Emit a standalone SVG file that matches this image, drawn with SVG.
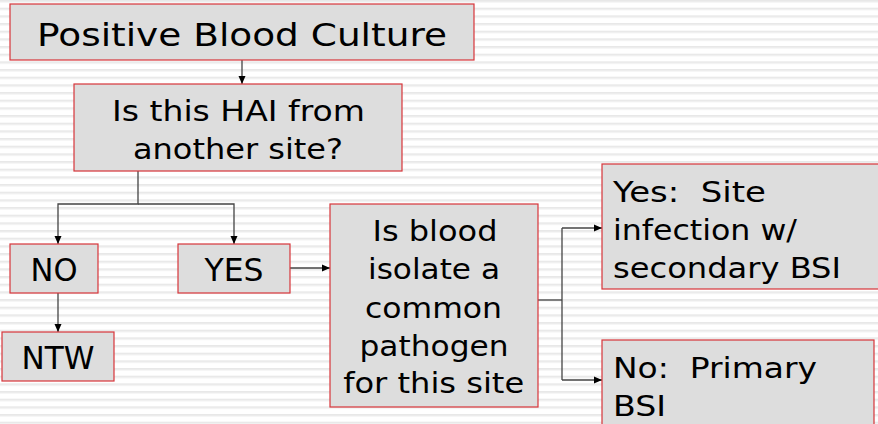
<svg xmlns="http://www.w3.org/2000/svg" width="878" height="424" viewBox="0 0 878 424">
<defs>
<pattern id="stripes" x="0" y="0" width="8" height="7.667" patternUnits="userSpaceOnUse">
<rect x="0" y="0" width="8" height="7.667" fill="#ffffff"/>
<rect x="0" y="0.2" width="8" height="1.4" fill="#e2e2e2"/>
<rect x="0" y="1.6" width="8" height="0.9" fill="#f0f0f0"/>
</pattern>
<marker id="arr" viewBox="0 0 8 8" refX="8" refY="4" markerWidth="8" markerHeight="8" markerUnits="userSpaceOnUse" orient="auto">
<path d="M0,0.5 L8,4 L0,7.5 z" fill="#000"/>
</marker>
<style>
.box{fill:#dddddd;stroke:#d8353a;stroke-width:1.2}
.t{font-family:"DejaVu Sans","Verdana",sans-serif;fill:#000}
.c{text-anchor:middle}
.ln{fill:none;stroke:#444;stroke-width:1.3}
</style>
</defs>
<rect width="878" height="424" fill="url(#stripes)"/>
<g id="connectors">
<path class="ln" d="M242,60 V84" marker-end="url(#arr)"/>
<path class="ln" d="M138,171 V204 H58 V244" marker-end="url(#arr)"/>
<path class="ln" d="M138,204 H234 V244" marker-end="url(#arr)"/>
<path class="ln" d="M58,293 V332" marker-end="url(#arr)"/>
<path class="ln" d="M290,268 H330" marker-end="url(#arr)"/>
<path class="ln" d="M538,300 H562"/>
<path class="ln" d="M562,228 V380"/>
<path class="ln" d="M562,228 H602" marker-end="url(#arr)"/>
<path class="ln" d="M562,380 H602" marker-end="url(#arr)"/>
</g>
<g id="n1">
<rect class="box" x="10" y="4" width="464" height="56"/>
<text class="t c" x="242" y="46" font-size="32" textLength="410" lengthAdjust="spacingAndGlyphs">Positive Blood Culture</text>
</g>
<g id="n2">
<rect class="box" x="74" y="84" width="328" height="87"/>
<text class="t c" x="238.5" y="121" font-size="29" textLength="253" lengthAdjust="spacingAndGlyphs">Is this HAI from</text>
<text class="t c" x="238" y="159" font-size="29" textLength="210" lengthAdjust="spacingAndGlyphs">another site?</text>
</g>
<g id="n3">
<rect class="box" x="10" y="244" width="88" height="49"/>
<text class="t c" x="54" y="281" font-size="32" textLength="47" lengthAdjust="spacingAndGlyphs">NO</text>
</g>
<g id="n4">
<rect class="box" x="178" y="244" width="112" height="49"/>
<text class="t c" x="234" y="281" font-size="32" textLength="59" lengthAdjust="spacingAndGlyphs">YES</text>
</g>
<g id="n5">
<rect class="box" x="2" y="332" width="112" height="49"/>
<text class="t c" x="58" y="369" font-size="32" textLength="73" lengthAdjust="spacingAndGlyphs">NTW</text>
</g>
<g id="n6">
<rect class="box" x="330" y="204" width="208" height="203"/>
<text class="t c" x="435" y="241" font-size="29" textLength="125" lengthAdjust="spacingAndGlyphs">Is blood</text>
<text class="t c" x="434" y="279" font-size="29" textLength="132" lengthAdjust="spacingAndGlyphs">isolate a</text>
<text class="t c" x="433.5" y="317.5" font-size="29" textLength="137" lengthAdjust="spacingAndGlyphs">common</text>
<text class="t c" x="434" y="355.5" font-size="29" textLength="149" lengthAdjust="spacingAndGlyphs">pathogen</text>
<text class="t c" x="433.7" y="393" font-size="29" textLength="181" lengthAdjust="spacingAndGlyphs">for this site</text>
</g>
<g id="n7">
<rect class="box" x="602" y="164" width="290" height="125"/>
<text class="t" x="613" y="201.5" font-size="29" xml:space="preserve" textLength="153" lengthAdjust="spacingAndGlyphs">Yes:  Site</text>
<text class="t" x="613" y="240" font-size="29" textLength="184" lengthAdjust="spacingAndGlyphs">infection w/</text>
<text class="t" x="613" y="278.3" font-size="29" textLength="228" lengthAdjust="spacingAndGlyphs">secondary BSI</text>
</g>
<g id="n8">
<rect class="box" x="602" y="340" width="272" height="100"/>
<text class="t" x="613" y="377.5" font-size="29" xml:space="preserve" textLength="204" lengthAdjust="spacingAndGlyphs">No:  Primary</text>
<text class="t" x="613" y="415.5" font-size="29" textLength="53" lengthAdjust="spacingAndGlyphs">BSI</text>
</g>
</svg>
